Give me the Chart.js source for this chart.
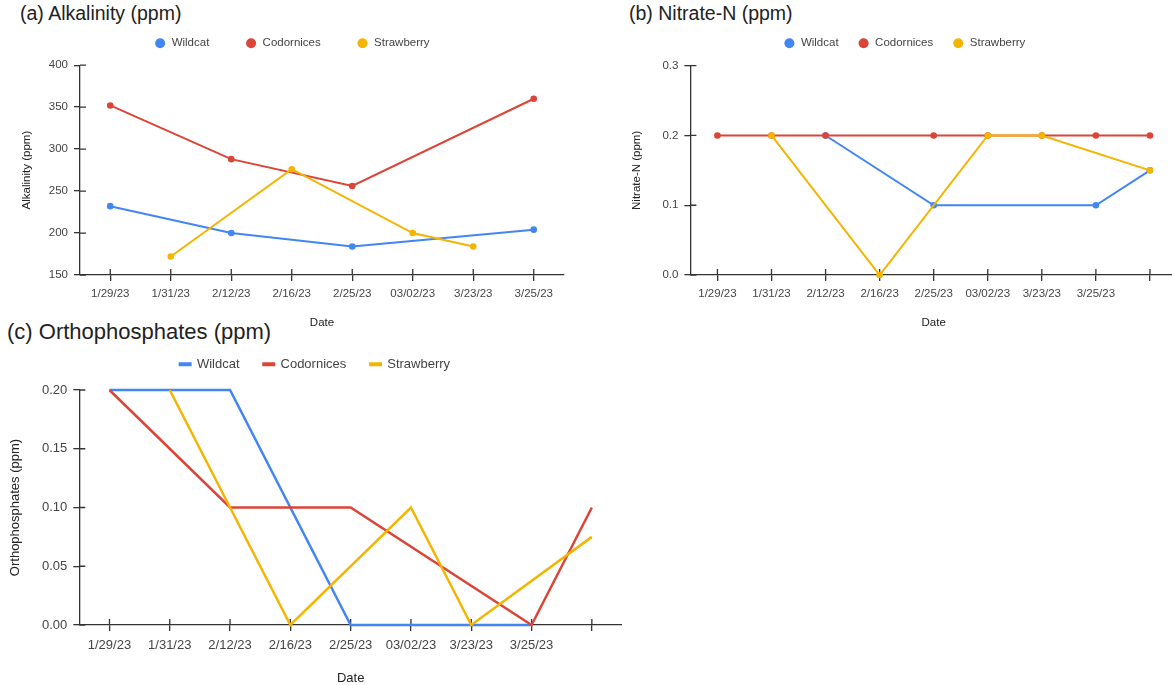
<!DOCTYPE html>
<html>
<head>
<meta charset="utf-8">
<script src="https://cdn.jsdelivr.net/npm/chart.js@4.4.0/dist/chart.umd.min.js"></script>
<style>
  html, body { margin: 0; padding: 0; background: #fff; overflow: hidden; }
  body { width: 1172px; height: 685px; position: relative; font-family: 'Liberation Sans', Arial, sans-serif; }
  .panel { position: absolute; }
  .title { position: absolute; font-size: 19.5px; line-height: 24px; color: #222; white-space: nowrap; }
</style>
</head>
<body>
<div class="title" style="left:20px; top:1px;">(a) Alkalinity (ppm)</div>
<div class="title" style="left:629px; top:1px;">(b) Nitrate-N (ppm)</div>
<div class="title" style="left:7px; top:320px; font-size:22px;">(c) Orthophosphates (ppm)</div>

<div class="panel" style="left:0; top:0; width:568px; height:335px;"><canvas id="alkChart"></canvas></div>
<div class="panel" style="left:620px; top:0; width:561px; height:335px;"><canvas id="nitChart"></canvas></div>
<div class="panel" style="left:0; top:325px; width:622px; height:360px;"><canvas id="phoChart"></canvas></div>

<script>
// sampling dates (b and c have one extra, unlabeled slot at the end)
const dates = ['1/29/23', '1/31/23', '2/12/23', '2/16/23', '2/25/23', '03/02/23', '3/23/23', '3/25/23'];
const datesExtra = [...dates, ''];

const siteNames = ['Wildcat', 'Codornices', 'Strawberry'];

// (a) alkalinity, ppm
const alkWildcat    = [232, null, 200, null, 184, null, null, 204];
const alkCodornices = [352, null, 288, null, 256, null, null, 360];
const alkStrawberry = [null, 172, null, 276, null, 200, 184, null];
const alkTicks = [150, 200, 250, 300, 350, 400];

// (b) nitrate-N, ppm
const nitWildcat    = [null, null, 0.2, null, 0.1, null, null, 0.1, 0.15];
const nitCodornices = [0.2, 0.2, 0.2, null, 0.2, 0.2, 0.2, 0.2, 0.2];
const nitStrawberry = [null, 0.2, null, 0, null, 0.2, 0.2, null, 0.15];
const nitTicks = [0, 0.1, 0.2, 0.3];

// (c) orthophosphates, ppm
const phoWildcat    = [0.2, 0.2, 0.2, null, 0, 0, 0, 0, null];
const phoCodornices = [0.2, null, 0.1, 0.1, 0.1, null, null, 0, 0.1];
const phoStrawberry = [null, 0.2, 0.1, 0, null, 0.1, 0, null, 0.075];
const phoTicks = [0, 0.05, 0.1, 0.15, 0.2];

const COLORS = ['#4285f4', '#db4437', '#f4b400'];
const AXIS = '#333';

Chart.defaults.font.family = "'Liberation Sans', Arial, sans-serif";
Chart.defaults.color = '#444';

// tick marks in the reference cross the axis line, draw the inner half here
const innerTicks = {
    id: 'innerTicks',
    beforeDatasetsDraw(chart) {
        const { ctx, chartArea, scales: { x, y } } = chart;
        const len = 6;
        ctx.save();
        ctx.strokeStyle = AXIS;
        ctx.lineWidth = 1.3;
        ctx.beginPath();
        x.ticks.forEach((t, i) => {
            const px = x.getPixelForTick(i);
            ctx.moveTo(px, chartArea.bottom);
            ctx.lineTo(px, chartArea.bottom - len);
        });
        y.ticks.forEach((t, i) => {
            const py = y.getPixelForTick(i);
            ctx.moveTo(chartArea.left, py);
            ctx.lineTo(chartArea.left + len, py);
        });
        ctx.stroke();
        ctx.restore();
    }
};

// extra room under the legend
const legendGap = (gap) => ({
    id: 'legendGap',
    beforeInit(chart) {
        const fit = chart.legend.fit;
        chart.legend.fit = function () {
            fit.call(this);
            this.height += gap;
        };
    }
});

function lineChart(id, s) {
    const font = { size: s.fontSize };
    const datasets = s.series.map((values, i) => ({
        label: siteNames[i],
        data: values,
        borderColor: COLORS[i],
        backgroundColor: COLORS[i],
        pointBackgroundColor: COLORS[i],
        pointBorderWidth: 0,
        pointRadius: s.points ? 3.3 : 0,
        borderWidth: s.lineWidth,
        spanGaps: true,
        tension: 0,
        clip: false,
        order: 3 - i // later sites drawn on top
    }));

    return new Chart(document.getElementById(id), {
        type: 'line',
        data: { labels: s.labels, datasets },
        options: {
            responsive: true,
            maintainAspectRatio: false,
            animation: false,
            layout: { padding: s.padding },
            plugins: {
                tooltip: { enabled: false },
                legend: {
                    position: 'top',
                    labels: {
                        font,
                        color: '#444',
                        padding: s.legendPad,
                        usePointStyle: s.points,
                        boxWidth: s.points ? s.fontSize : 10.5,
                        boxHeight: s.points ? 7.07 : 1.5,
                        sort: (a, b) => a.datasetIndex - b.datasetIndex
                    }
                }
            },
            scales: {
                x: {
                    offset: true,
                    grid: { drawOnChartArea: false, tickLength: 6, color: AXIS, lineWidth: 1.3, offset: false },
                    border: { color: AXIS, width: 1.3 },
                    ticks: { font, padding: s.xTickPad, maxRotation: 0, autoSkip: false },
                    title: { display: true, text: 'Date', font, color: '#222', padding: { top: 0, bottom: s.xTitlePad } },
                    afterFit: (scale) => { scale.height = 60; }
                },
                y: {
                    min: s.ticks[0],
                    max: s.ticks[s.ticks.length - 1],
                    grid: { drawOnChartArea: false, tickLength: 6, color: AXIS, lineWidth: 1.3 },
                    border: { color: AXIS, width: 1.3 },
                    afterBuildTicks: (scale) => { scale.ticks = s.ticks.map((v) => ({ value: v })); },
                    ticks: { font, padding: 6, callback: (v) => v.toFixed(s.decimals) },
                    title: { display: true, text: s.yTitle, font, color: '#222', padding: { top: s.yTitlePad, bottom: 0 } },
                    afterFit: (scale) => { scale.width = s.yWidth; }
                }
            }
        },
        plugins: [innerTicks, legendGap(s.gap)]
    });
}

lineChart('alkChart', {
    labels: dates,
    series: [alkWildcat, alkCodornices, alkStrawberry],
    ticks: alkTicks, decimals: 0,
    yTitle: 'Alkalinity (ppm)',
    fontSize: 11.5, points: true, lineWidth: 2,
    legendPad: 36, gap: 6.15,
    padding: { top: 1.5, left: 16, right: 0, bottom: 0 },
    yWidth: 64, yTitlePad: 3.8, xTitlePad: 5, xTickPad: 5.5
});

lineChart('nitChart', {
    labels: datesExtra,
    series: [nitWildcat, nitCodornices, nitStrawberry],
    ticks: nitTicks, decimals: 1,
    yTitle: 'Nitrate-N (ppm)',
    fontSize: 11.5, points: true, lineWidth: 2,
    legendPad: 19.25, gap: 6.65,
    padding: { top: 18.3, left: 8, right: 0, bottom: 0 },
    yWidth: 62.4, yTitlePad: 1.8, xTitlePad: 5.5, xTickPad: 5.5
});

lineChart('phoChart', {
    labels: datesExtra,
    series: [phoWildcat, phoCodornices, phoStrawberry],
    ticks: phoTicks, decimals: 2,
    yTitle: 'Orthophosphates (ppm)',
    fontSize: 13, points: false, lineWidth: 2.5,
    legendPad: 24, gap: 9.2,
    padding: { top: 8.8, left: 8, right: 0, bottom: 0 },
    yWidth: 71.3, yTitlePad: 0, xTitlePad: -1.5, xTickPad: 7
});
</script>
</body>
</html>
